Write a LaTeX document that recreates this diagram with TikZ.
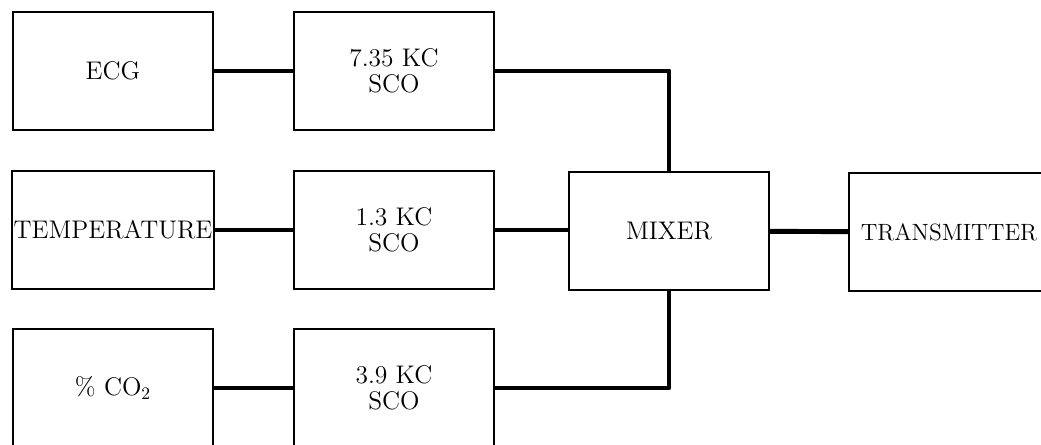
\documentclass[tikz,border=0pt]{standalone}
\usepackage{tikz}
\usetikzlibrary{positioning}

\begin{document}
\begin{tikzpicture}[x=0.02cm,y=-0.02cm,
  box/.style={draw,line width=0.8pt,minimum width=4cm,minimum height=2.36cm,
    inner sep=1pt,align=center,font=\fontsize{14.5}{15}\selectfont},
  wire/.style={line width=2.8pt,line join=round}]
  \useasboundingbox (0,0) rectangle (1041,445);
  \clip (0,0) rectangle (1041,445);
  % sensors
  \node[box] (ecg)  at (113,71)  {ECG};
  \node[box] (temp) at (113,230) {TEMPERATURE};
  \node[box] (co)   at (113,388) {\% CO$_{\mathrm{2}}$};
  % subcarrier oscillators
  \node[box] (scoA) at (394,71)  {7.35 KC\\SCO};
  \node[box] (scoB) at (394,230) {1.3 KC\\SCO};
  \node[box] (scoC) at (394,388) {3.9 KC\\SCO};
  \node[box] (mix)  at (669,231) {MIXER};
  \node[box,font=\fontsize{13.4}{15}\selectfont] (xmit) at (949,232) {TRANSMITTER};
  \draw[wire] (ecg) -- (scoA);
  \draw[wire] (temp) -- (scoB);
  \draw[wire] (co) -- (scoC);
  \draw[wire] (scoA.east) -| (mix.north);
  \draw[wire] (scoB.east) -- (scoB.east -| mix.west);
  \draw[wire] (scoC.east) -| (mix.south);
  \draw[wire] (mix) -- (xmit);
\end{tikzpicture}
\end{document}
